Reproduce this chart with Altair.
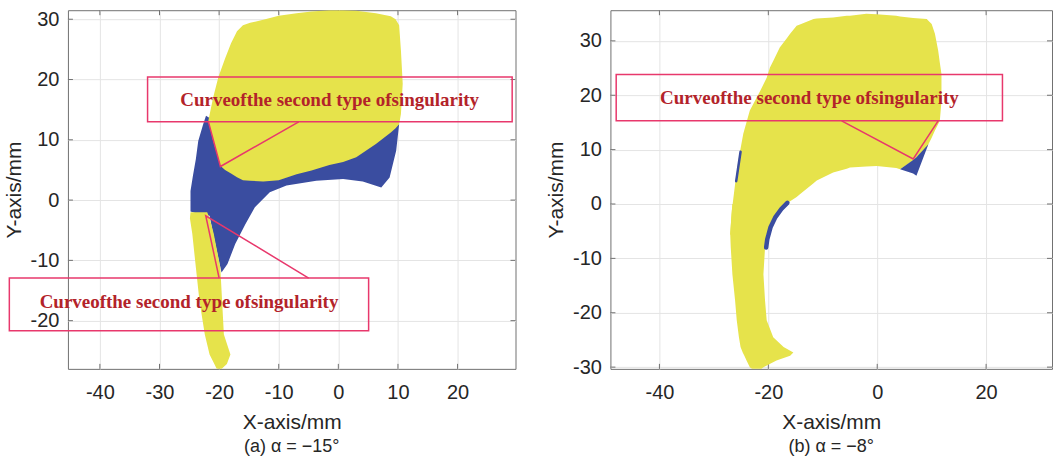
import altair as alt
import pandas as pd

YELLOW = "#e6e34b"
BLUE = "#3a4da0"
CALLOUT = "#e8386c"
NOTE = "#b3232a"
INK = "#262626"
GRID = "#e4e4e4"
FRAME = "#707070"
SANS = "Liberation Sans"
SERIF = "Liberation Serif"
NOTE_TEXT = "Curveofthe second type ofsingularity"

# ---------------- panel (a): alpha = -15 deg ----------------
a_xlim = [-45.36, 29.72]
a_ylim = [-28.0, 31.5]
a_xticks = [-40, -30, -20, -10, 0, 10, 20]
a_yticks = [-20, -10, 0, 10, 20, 30]

# blue workspace band (vertical slices: x, upper y, lower y)
a_blue_x = [-24.8, -24.4, -23.9, -23.5, -22.7, -22.2, -21.6, -21.0, -19.6, -18.6, -17.3,
            -15.6, -14.0, -11.5, -8.7, -3.7, 0.8, 4.1, 7.2, 8.6, 9.7, 10.2]
a_blue_top = [1.5, 4.0, 6.8, 9.8, 12.5, 14.0, 13.6, 12.5, 11.0, 10.0, 10.0,
              10.0, 10.0, 10.0, 10.0, 10.0, 10.0, 11.0, 12.0, 12.4, 12.6, 12.6]
a_blue_bot = [-1.9, -2.0, -2.2, -2.3, -2.4, -2.5, -2.6, -5.6, -12.0, -10.6, -7.3,
              -4.0, -1.2, 1.3, 2.4, 3.2, 3.5, 3.1, 2.1, 3.75, 8.2, 12.6]

# upper yellow region
a_yel_x = [-21.8, -21.0, -20.1, -19.8, -19.0, -18.0, -17.0, -16.0, -14.8, -12.6, -10.0,
           -7.0, -4.5, -1.5, 0.8, 3.0, 6.3, 8.8, 9.6, 10.2, 10.5, 10.8]
a_yel_top = [13.2, 17.0, 20.5, 21.3, 23.5, 26.0, 28.0, 29.0, 29.4, 29.9, 30.6,
             31.0, 31.3, 31.5, 31.5, 31.4, 31.0, 30.5, 30.0, 29.0, 24.8, 19.3]
a_yel_bot = [13.2, 9.8, 6.8, 5.7, 5.0, 4.4, 3.8, 3.3, 3.2, 3.1, 3.3,
             4.3, 4.9, 5.8, 6.3, 7.1, 9.3, 11.2, 11.9, 12.6, 14.3, 19.3]

# lower yellow strip (horizontal slices: y, left x, right x)
a_strip_y = [-28.2, -27.2, -25.6, -22.3, -16.7, -11.2, -5.6, -3.0, -2.0]
a_strip_l = [-20.3, -20.8, -21.6, -22.4, -23.3, -23.9, -24.5, -24.9, -24.8]
a_strip_r = [-19.8, -18.7, -18.1, -19.2, -19.5, -19.8, -20.9, -21.6, -22.0]

# callouts
a_box_x1 = [-32.0, -55.19]
a_box_x2 = [29.16, 5.08]
a_box_y1 = [20.43, -12.93]
a_box_y2 = [12.98, -21.66]
a_note_x = [-1.46, -25.05]
a_note_y = [16.6, -16.85]
a_lead_x = [-21.79, -19.78, -6.65, -20.0, -22.24, -4.98]
a_lead_y = [12.98, 5.57, 12.98, -12.93, -2.6, -12.93]
a_lead_g = [0, 0, 0, 1, 1, 1]

# ---------------- panel (b): alpha = -8 deg ----------------
b_xlim = [-49.0, 32.1]
b_ylim = [-30.32, 35.64]
b_xticks = [-40, -20, 0, 20]
b_yticks = [-30, -20, -10, 0, 10, 20, 30]

# yellow body (vertical slices)
b_yel_x = [-27.0, -26.7, -26.1, -25.5, -24.6, -23.4, -21.5, -20.3, -19.7, -19.1, -17.9,
           -16.6, -16.0, -14.8, -14.2, -11.7, -11.1, -8.1, -5.6, -5.0, -2.0, -0.1,
           3.5, 4.2, 6.6, 9.1, 9.4, 10.0, 10.6, 11.2, 11.5, 11.8]
b_yel_top = [-5.5, -1.2, 3.7, 8.0, 12.9, 17.2, 20.8, 23.2, 25.1, 26.3, 28.8,
             30.5, 31.3, 32.8, 33.0, 34.0, 34.1, 34.3, 34.6, 34.6, 35.0, 34.9,
             34.6, 34.5, 34.2, 34.0, 33.7, 33.1, 31.3, 28.2, 26.0, 23.9]
b_yel_bot = [-5.5, -6.0, -6.0, -6.0, -6.0, -6.0, -6.0, -5.5, -4.0, -2.5, -1.3,
             0.0, 0.5, 1.3, 1.8, 3.8, 4.3, 5.8, 6.5, 6.7, 6.9, 7.0,
             6.6, 6.4, 8.0, 10.4, 11.0, 12.2, 13.5, 14.7, 15.3, 19.0]

# yellow leg (horizontal slices)
b_leg_y = [-30.9, -30.0, -28.8, -27.9, -27.3, -26.3, -24.5, -21.4, -17.8, -12.9, -8.0, -5.5, -2.5, 0.0]
b_leg_l = [-22.3, -23.4, -24.0, -24.4, -24.7, -25.1, -25.4, -25.8, -26.1, -26.6, -26.9, -27.0, -26.8, -26.6]
b_leg_r = [-21.9, -20.9, -18.5, -16.0, -15.4, -17.2, -19.1, -20.3, -20.6, -20.9, -20.6, -20.3, -19.1, -16.6]

# blue patch near the right tip
b_tri_x = [4.2, 6.6, 7.2, 9.4]
b_tri_top = [6.4, 8.1, 8.6, 11.0]
b_tri_bot = [6.4, 5.6, 5.2, 11.0]

# thin blue traces along the boundary: outer sliver and inner crescent
b_sliver_x = [-25.1, -25.9]
b_sliver_y = [9.6, 4.2]
b_crescent_x = [-16.5, -17.6, -18.7, -19.6, -20.2, -20.4]
b_crescent_y = [0.2, -0.9, -2.4, -4.3, -6.5, -8.0]

b_box_x1 = [-47.94]
b_box_x2 = [23.0]
b_box_y1 = [23.81]
b_box_y2 = [15.30]
b_note_x = [-12.44]
b_note_y = [19.58]
b_lead_x = [-6.53, 6.61, 11.19]
b_lead_y = [15.30, 8.27, 15.30]
b_lead_g = [0, 0, 0]


def panel(xlim, ylim, xticks, yticks, width, height, caption):
    axis_x = alt.Axis(values=xticks, title="X-axis/mm", domain=False, ticks=False,
                      grid=True, gridColor=GRID, labelFont=SANS, labelFontSize=20,
                      labelColor=INK, labelPadding=14, labelExpr="'' + datum.value",
                      titleFont=SANS, titleFontSize=21, titleFontWeight="normal",
                      titleColor=INK, titlePadding=9)
    axis_y = alt.Axis(values=yticks, title="Y-axis/mm", domain=False, ticks=False,
                      grid=True, gridColor=GRID, labelFont=SANS, labelFontSize=20,
                      labelColor=INK, labelPadding=9, labelExpr="'' + datum.value",
                      titleFont=SANS, titleFontSize=21, titleFontWeight="normal",
                      titleColor=INK, titlePadding=6)
    xs = alt.Scale(domain=xlim, nice=False, zero=False)
    ys = alt.Scale(domain=ylim, nice=False, zero=False)

    def X(f):
        return alt.X(f, type="quantitative", scale=xs, axis=axis_x)

    def Y(f):
        return alt.Y(f, type="quantitative", scale=ys, axis=axis_y)

    return X, Y, width, height, caption


def build(spec, vbands, hbands, traces, boxes, notes, leads):
    X, Y, W, H, caption = spec
    layers = []
    for xs_, top, bot, col in vbands:
        df = pd.DataFrame({"x": xs_, "top": top, "bot": bot})
        layers.append(alt.Chart(df).mark_area(color=col, clip=True, interpolate="linear").encode(
            x=X("x"), y=Y("top"), y2=alt.Y2("bot:Q")))
    for ys_, lft, rgt, col in hbands:
        df = pd.DataFrame({"y": ys_, "l": lft, "r": rgt})
        layers.append(alt.Chart(df).mark_area(color=col, clip=True, interpolate="linear",
                                              orient="horizontal").encode(
            y=Y("y"), x=X("l"), x2=alt.X2("r:Q")))
    for tx, ty, sw in traces:
        df = pd.DataFrame({"x": tx, "y": ty, "o": range(len(tx))})
        layers.append(alt.Chart(df).mark_line(color=BLUE, strokeWidth=sw, strokeCap="round",
                                              clip=True).encode(
            x=X("x"), y=Y("y"), order=alt.Order("o:Q")))
    # callout frames, labels and leader lines
    bx1, bx2, by1, by2 = boxes
    df = pd.DataFrame({"x1": bx1, "x2": bx2, "y1": by1, "y2": by2})
    layers.append(alt.Chart(df).mark_rect(fill="white", fillOpacity=0, stroke=CALLOUT,
                                          strokeWidth=1.5, clip=False).encode(
        x=X("x1"), x2=alt.X2("x2:Q"), y=Y("y1"), y2=alt.Y2("y2:Q")))
    nx, ny = notes
    df = pd.DataFrame({"x": nx, "y": ny, "t": [NOTE_TEXT] * len(nx)})
    layers.append(alt.Chart(df).mark_text(font=SERIF, fontWeight="bold", fontSize=19,
                                          color=NOTE, align="center", baseline="middle",
                                          clip=False).encode(
        x=X("x"), y=Y("y"), text="t:N"))
    lx, ly, lg = leads
    df = pd.DataFrame({"x": lx, "y": ly, "g": lg, "o": range(len(lx))})
    layers.append(alt.Chart(df).mark_line(color=CALLOUT, strokeWidth=1.5, clip=False).encode(
        x=X("x"), y=Y("y"), detail="g:N", order=alt.Order("o:Q")))
    return layers


def frame_ticks(spec, xticks, yticks):
    X, Y, W, H, caption = spec
    tx = pd.DataFrame({"t": xticks})
    ty = pd.DataFrame({"t": yticks})
    L = 5
    return [
        alt.Chart(tx).mark_rule(color=FRAME).encode(x=X("t"), y=alt.value(H), y2=alt.value(H - L)),
        alt.Chart(tx).mark_rule(color=FRAME).encode(x=X("t"), y=alt.value(0), y2=alt.value(L)),
        alt.Chart(ty).mark_rule(color=FRAME).encode(y=Y("t"), x=alt.value(0), x2=alt.value(L)),
        alt.Chart(ty).mark_rule(color=FRAME).encode(y=Y("t"), x=alt.value(W), x2=alt.value(W - L)),
    ]


def finish(spec, layers):
    X, Y, W, H, caption = spec
    return alt.layer(*layers).properties(
        width=W, height=H,
        title=alt.TitleParams(caption, orient="bottom", font=SANS, fontSize=18,
                              fontWeight="normal", color=INK, offset=5))


spec_a = panel(a_xlim, a_ylim, a_xticks, a_yticks, 448, 359, "(a) α = −15°")
layers_a = build(
    spec_a,
    vbands=[(a_blue_x, a_blue_top, a_blue_bot, BLUE), (a_yel_x, a_yel_top, a_yel_bot, YELLOW)],
    hbands=[(a_strip_y, a_strip_l, a_strip_r, YELLOW)],
    traces=[],
    boxes=(a_box_x1, a_box_x2, a_box_y1, a_box_y2),
    notes=(a_note_x, a_note_y),
    leads=(a_lead_x, a_lead_y, a_lead_g),
)
chart_a = finish(spec_a, frame_ticks(spec_a, a_xticks, a_yticks) + layers_a)

spec_b = panel(b_xlim, b_ylim, b_xticks, b_yticks, 442, 359, "(b) α = −8°")
layers_b = build(
    spec_b,
    vbands=[(b_yel_x, b_yel_top, b_yel_bot, YELLOW), (b_tri_x, b_tri_top, b_tri_bot, BLUE)],
    hbands=[(b_leg_y, b_leg_l, b_leg_r, YELLOW)],
    traces=[(b_sliver_x, b_sliver_y, 2.5), (b_crescent_x, b_crescent_y, 4.5)],
    boxes=(b_box_x1, b_box_x2, b_box_y1, b_box_y2),
    notes=(b_note_x, b_note_y),
    leads=(b_lead_x, b_lead_y, b_lead_g),
)
chart_b = finish(spec_b, frame_ticks(spec_b, b_xticks, b_yticks) + layers_b)

chart = alt.hconcat(chart_a, chart_b, spacing=28).properties(
    padding={"left": 2, "top": 8, "right": 0, "bottom": 0},
    background="white",
).configure_view(stroke=FRAME, strokeWidth=1)

chart.save("out.html", embed_options={"renderer": "svg", "actions": False})
